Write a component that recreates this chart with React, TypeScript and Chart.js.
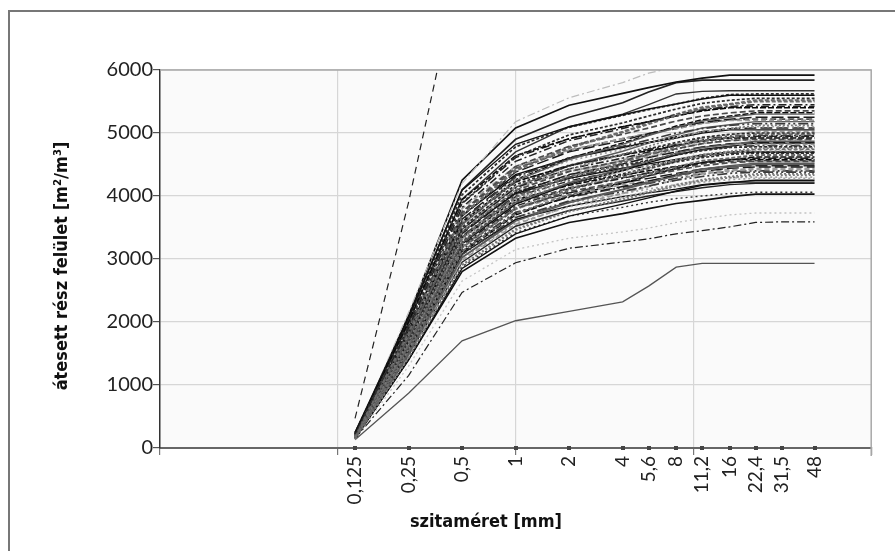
import React, { useEffect, useRef } from "react";
import { Chart, registerables } from "chart.js";

Chart.register(...registerables);

// ---- data ----
const sieves = [0.125, 0.25, 0.5, 1, 2, 4, 5.6, 8, 11.2, 16, 22.4, 31.5, 48];
const sieveLabels = ["0,125", "0,25", "0,5", "1", "2", "4", "5,6", "8", "11,2", "16", "22,4", "31,5", "48"];
const decadeGrid = [0.1, 1, 10];
const decadeTicks = [0.01, 0.1, 10, 100];

const steepDashed = [470, 3900, 7800];
const topSolid = [200, 2100, 4250, 5080, 5440, 5630, 5720, 5810, 5870, 5920, 5920, 5920, 5920];
const secondSolid = [190, 2050, 4100, 4900, 5250, 5480, 5650, 5800, 5840, 5840, 5840, 5840, 5840];
const topLightDashDot = [210, 2150, 4200, 5180, 5560, 5800, 5950, 6050, 6100, 6120, 6120, 6120, 6120];
const upperSolid = [200, 1990, 3950, 4700, 5100, 5300, 5450, 5620, 5660, 5670, 5670, 5670, 5670];
const lowestBlack = [150, 1400, 2800, 3330, 3580, 3720, 3800, 3880, 3930, 3990, 4030, 4030, 4030];
const dotted4060 = [150, 1420, 2880, 3420, 3680, 3820, 3900, 3960, 4000, 4040, 4060, 4060, 4060];
const solid4200 = [160, 1470, 2950, 3520, 3770, 3920, 4000, 4070, 4130, 4180, 4200, 4200, 4200];
const lightDotted = [140, 1300, 2650, 3150, 3330, 3430, 3490, 3580, 3640, 3700, 3730, 3730, 3730];
const dashDotLow = [150, 1150, 2470, 2940, 3170, 3270, 3320, 3400, 3450, 3510, 3580, 3590, 3590];
const bottomSolid = [130, 870, 1700, 2020, 2170, 2320, 2570, 2870, 2930, 2930, 2930, 2930, 2930];

const bandCurves = [
  [250, 2070, 4090, 4820, 5100, 5290, 5380, 5460, 5540, 5600, 5600, 5600, 5600],
  [220, 1940, 3890, 4630, 4970, 5160, 5270, 5380, 5470, 5520, 5550, 5550, 5550],
  [190, 1820, 3690, 4400, 4760, 5010, 5140, 5280, 5390, 5450, 5500, 5500, 5500],
  [220, 1910, 3820, 4550, 4880, 5070, 5180, 5290, 5370, 5420, 5450, 5450, 5450],
  [240, 2000, 3940, 4640, 4910, 5100, 5180, 5270, 5350, 5400, 5400, 5400, 5400],
  [210, 1870, 3750, 4470, 4790, 4980, 5080, 5190, 5270, 5320, 5350, 5350, 5350],
  [190, 1750, 3550, 4240, 4580, 4820, 4960, 5090, 5190, 5250, 5300, 5300, 5300],
  [210, 1840, 3680, 4380, 4700, 4880, 4990, 5090, 5170, 5220, 5250, 5250, 5250],
  [230, 1920, 3800, 4470, 4730, 4910, 4990, 5070, 5150, 5200, 5200, 5200, 5200],
  [210, 1800, 3610, 4300, 4610, 4790, 4890, 5000, 5070, 5120, 5150, 5150, 5150],
  [180, 1690, 3430, 4100, 4430, 4660, 4790, 4920, 5020, 5070, 5120, 5120, 5120],
  [200, 1790, 3570, 4260, 4560, 4740, 4850, 4950, 5020, 5070, 5100, 5100, 5100],
  [230, 1870, 3690, 4340, 4600, 4770, 4850, 4920, 5000, 5050, 5050, 5050, 5050],
  [200, 1750, 3500, 4180, 4480, 4650, 4750, 4850, 4930, 4980, 5000, 5000, 5000],
  [170, 1640, 3340, 3980, 4310, 4530, 4660, 4780, 4880, 4930, 4980, 4980, 4980],
  [200, 1730, 3470, 4130, 4430, 4600, 4700, 4800, 4880, 4930, 4950, 4950, 4950],
  [220, 1820, 3590, 4230, 4480, 4650, 4720, 4800, 4870, 4920, 4920, 4920, 4920],
  [200, 1720, 3430, 4090, 4390, 4560, 4660, 4750, 4830, 4880, 4900, 4900, 4900],
  [170, 1610, 3260, 3900, 4210, 4430, 4550, 4680, 4770, 4820, 4870, 4870, 4870],
  [190, 1700, 3400, 4050, 4340, 4510, 4610, 4700, 4780, 4830, 4850, 4850, 4850],
  [220, 1780, 3520, 4150, 4390, 4550, 4630, 4700, 4770, 4820, 4820, 4820, 4820],
  [190, 1680, 3360, 4010, 4300, 4460, 4560, 4660, 4730, 4780, 4800, 4800, 4800],
  [170, 1570, 3190, 3810, 4120, 4330, 4450, 4570, 4660, 4710, 4760, 4760, 4760],
  [190, 1650, 3300, 3940, 4220, 4390, 4480, 4580, 4650, 4700, 4720, 4720, 4720],
  [210, 1740, 3430, 4040, 4280, 4440, 4510, 4580, 4650, 4700, 4700, 4700, 4700],
  [190, 1640, 3280, 3910, 4190, 4350, 4450, 4540, 4610, 4660, 4680, 4680, 4680],
  [160, 1530, 3120, 3720, 4020, 4230, 4350, 4460, 4560, 4600, 4650, 4650, 4650],
  [180, 1610, 3220, 3840, 4120, 4280, 4370, 4460, 4530, 4580, 4600, 4600, 4600],
  [210, 1690, 3340, 3940, 4170, 4330, 4400, 4470, 4530, 4580, 4580, 4580, 4580],
  [180, 1590, 3190, 3800, 4070, 4230, 4320, 4410, 4480, 4530, 4550, 4550, 4550],
  [160, 1490, 3020, 3600, 3890, 4100, 4210, 4320, 4410, 4460, 4500, 4500, 4500],
  [180, 1560, 3120, 3720, 3990, 4150, 4240, 4330, 4390, 4440, 4460, 4460, 4460],
  [200, 1640, 3230, 3800, 4020, 4180, 4240, 4310, 4380, 4420, 4420, 4420, 4420],
  [180, 1530, 3070, 3660, 3920, 4070, 4160, 4250, 4310, 4360, 4380, 4380, 4380],
  [150, 1430, 2900, 3460, 3750, 3940, 4050, 4160, 4240, 4290, 4330, 4330, 4330],
  [170, 1500, 3000, 3570, 3830, 3980, 4070, 4150, 4220, 4260, 4280, 4280, 4280],
  [190, 1560, 3080, 3630, 3840, 3990, 4050, 4110, 4180, 4220, 4220, 4220, 4220],
];

const bandCurves2 = [
  [240, 2020, 4020, 4780, 5090, 5280, 5370, 5460, 5550, 5610, 5620, 5620, 5620],
  [190, 1820, 3700, 4420, 4780, 5020, 5160, 5300, 5410, 5460, 5520, 5520, 5520],
  [230, 1950, 3880, 4610, 4910, 5100, 5180, 5270, 5360, 5410, 5420, 5420, 5420],
  [190, 1760, 3560, 4260, 4600, 4840, 4970, 5110, 5210, 5270, 5320, 5320, 5320],
  [220, 1880, 3730, 4440, 4720, 4910, 4990, 5070, 5160, 5210, 5220, 5220, 5220],
  [180, 1710, 3470, 4140, 4480, 4710, 4840, 4970, 5080, 5130, 5180, 5180, 5180],
  [210, 1830, 3630, 4320, 4600, 4780, 4850, 4940, 5020, 5070, 5080, 5080, 5080],
  [180, 1660, 3360, 4020, 4340, 4570, 4690, 4820, 4920, 4970, 5020, 5020, 5020],
  [210, 1790, 3550, 4220, 4490, 4660, 4740, 4820, 4900, 4950, 4960, 4960, 4960],
  [170, 1630, 3310, 3950, 4270, 4500, 4620, 4740, 4840, 4890, 4940, 4940, 4940],
  [210, 1760, 3500, 4160, 4430, 4600, 4670, 4750, 4830, 4880, 4890, 4890, 4890],
  [170, 1600, 3240, 3870, 4190, 4400, 4530, 4650, 4740, 4790, 4840, 4840, 4840],
  [200, 1720, 3420, 4060, 4330, 4490, 4570, 4650, 4720, 4770, 4780, 4780, 4780],
  [170, 1560, 3180, 3790, 4100, 4310, 4430, 4550, 4650, 4690, 4740, 4740, 4740],
  [200, 1690, 3350, 3990, 4240, 4410, 4480, 4560, 4630, 4680, 4690, 4690, 4690],
  [160, 1520, 3100, 3700, 4000, 4200, 4320, 4440, 4530, 4570, 4620, 4620, 4620],
  [190, 1640, 3260, 3880, 4130, 4290, 4360, 4430, 4510, 4550, 4560, 4560, 4560],
  [160, 1490, 3030, 3620, 3910, 4110, 4230, 4340, 4430, 4480, 4520, 4520, 4520],
  [190, 1610, 3200, 3810, 4050, 4210, 4280, 4360, 4430, 4470, 4480, 4480, 4480],
  [160, 1470, 2980, 3550, 3840, 4040, 4150, 4260, 4350, 4400, 4440, 4440, 4440],
  [180, 1580, 3150, 3740, 3980, 4140, 4200, 4280, 4350, 4390, 4400, 4400, 4400],
  [150, 1440, 2910, 3480, 3760, 3960, 4070, 4180, 4260, 4310, 4350, 4350, 4350],
  [180, 1550, 3070, 3660, 3890, 4040, 4110, 4180, 4250, 4290, 4300, 4300, 4300],
  [150, 1400, 2850, 3400, 3680, 3870, 3970, 4080, 4170, 4210, 4250, 4250, 4250],
];

// ---- styles ----
const bandStyles = [
  { color: "#111111", dash: [] as number[], width: 1.4 },
  { color: "#4a4a4a", dash: [6, 3], width: 1.7 },
  { color: "#7a7a7a", dash: [2, 2], width: 1.7 },
  { color: "#222222", dash: [8, 3, 2, 3], width: 1.5 },
  { color: "#9a9a9a", dash: [5, 3], width: 1.8 },
  { color: "#2c2c2c", dash: [3, 2], width: 1.7 },
  { color: "#5a5a5a", dash: [], width: 1.4 },
  { color: "#a4a4a4", dash: [2, 3], width: 1.8 },
  { color: "#0a0a0a", dash: [6, 2], width: 1.5 },
  { color: "#3a3a3a", dash: [10, 3, 2, 3, 2, 3], width: 1.7 },
  { color: "#6a6a6a", dash: [4, 2], width: 1.9 },
  { color: "#1a1a1a", dash: [12, 4], width: 1.4 },
];

const FONT = 'Lato, "Open Sans", sans-serif';
const TITLE_FONT = '"DejaVu Sans Condensed", "DejaVu Sans", "Open Sans", sans-serif';

const toPoints = (vals: number[]) => vals.map((v, i) => ({ x: sieves[i], y: v }));

export default function App() {
  const ref = useRef<HTMLCanvasElement | null>(null);

  useEffect(() => {
    document.body.style.margin = "0";
    const canvas = ref.current;
    if (!canvas) return;

    const datasets: any[] = [];
    [...bandCurves, ...bandCurves2].forEach((c, i) => {
      const st = bandStyles[(i * 5) % bandStyles.length];
      datasets.push({
        data: toPoints(c),
        borderColor: st.color,
        borderDash: st.dash,
        borderWidth: st.width,
      });
    });
    const special = (vals: number[], color: string, dash: number[], width: number) =>
      datasets.push({ data: toPoints(vals), borderColor: color, borderDash: dash, borderWidth: width });

    special(topLightDashDot, "#bdbdbd", [8, 3, 2, 3], 1.2);
    special(topSolid, "#111111", [], 1.7);
    special(secondSolid, "#222222", [], 1.7);
    special(upperSolid, "#333333", [], 1.4);
    special(solid4200, "#222222", [], 1.4);
    special(dotted4060, "#333333", [2, 3], 1.4);
    special(lowestBlack, "#111111", [], 1.6);
    special(lightDotted, "#c4c4c4", [2, 3], 1.3);
    special(dashDotLow, "#222222", [8, 3, 2, 3], 1.2);
    special(bottomSolid, "#555555", [], 1.3);
    special(steepDashed, "#222222", [7, 5], 1.2);

    const frame = {
      id: "frame",
      beforeDraw(chart: any) {
        const { ctx, chartArea: a } = chart;
        ctx.save();
        ctx.fillStyle = "#ffffff";
        ctx.fillRect(0, 0, chart.width, chart.height);
        ctx.fillStyle = "#fafafa";
        ctx.fillRect(a.left, a.top, a.right - a.left, a.bottom - a.top);
        ctx.restore();
      },
      afterDraw(chart: any) {
        const { ctx, chartArea: a, scales } = chart;
        ctx.save();
        // outer frame
        ctx.strokeStyle = "#777777";
        ctx.lineWidth = 2;
        ctx.beginPath();
        ctx.moveTo(9, chart.height);
        ctx.lineTo(9, 11);
        ctx.lineTo(chart.width, 11);
        ctx.stroke();
        // plot border top/right
        ctx.strokeStyle = "#a8a8a8";
        ctx.lineWidth = 1.5;
        ctx.beginPath();
        ctx.moveTo(a.left, a.top);
        ctx.lineTo(a.right, a.top);
        ctx.lineTo(a.right, a.bottom + 8);
        ctx.stroke();
        // square markers on x axis
        ctx.fillStyle = "#444444";
        sieves.forEach((s) => {
          const x = scales.x.getPixelForValue(s);
          ctx.fillRect(Math.round(x) - 2, a.bottom - 2, 4, 4);
        });
        // titles
        ctx.fillStyle = "#111111";
        ctx.font = "bold 18px " + TITLE_FONT;
        ctx.textAlign = "center";
        ctx.textBaseline = "middle";
        ctx.fillText("szitaméret [mm]", 486, 522);
        ctx.translate(62, 266);
        ctx.rotate(-Math.PI / 2);
        ctx.fillText("átesett rész felület [m²/m³]", 0, 0);
        ctx.restore();
      },
    };

    const tickVals = Array.from(new Set([...decadeTicks, ...decadeGrid, ...sieves])).sort((a, b) => a - b);

    const chart = new Chart(canvas, {
      type: "line",
      data: { datasets },
      options: {
        animation: false,
        responsive: false,
        devicePixelRatio: 1,
        layout: { padding: { top: 70, right: 18, left: 0, bottom: 0 } },
        elements: { point: { radius: 0 }, line: { tension: 0 } },
        plugins: { legend: { display: false }, tooltip: { enabled: false } },
        scales: {
          x: {
            type: "logarithmic",
            min: 0.01,
            max: 100,
            afterBuildTicks: (s: any) => {
              s.ticks = tickVals.map((v) => ({ value: v }));
            },
            afterFit: (s: any) => {
              s.height = 103;
            },
            ticks: {
              autoSkip: false,
              minRotation: 90,
              maxRotation: 90,
              padding: 1,
              color: "#222222",
              font: { family: FONT, size: 19 },
              callback: (val: any) => {
                const i = sieves.indexOf(Number(val));
                return i >= 0 ? sieveLabels[i] : "";
              },
            },
            grid: {
              color: (c: any) => (c.tick && decadeGrid.includes(c.tick.value) ? "#d6d6d6" : "rgba(0,0,0,0)"),
              tickColor: (c: any) =>
                c.tick && (decadeTicks.includes(c.tick.value) || c.tick.value === 1) ? "#777777" : "rgba(0,0,0,0)",
              tickLength: 7,
              lineWidth: 1.2,
            },
            border: { display: true, color: "#666666", width: 2 },
          },
          y: {
            type: "linear",
            min: 0,
            max: 6000,
            afterFit: (s: any) => {
              s.width = 160;
            },
            ticks: {
              stepSize: 1000,
              padding: 0,
              color: "#222222",
              font: { family: FONT, size: 20 },
              callback: (val: any) => String(val),
            },
            grid: {
              color: "#d6d6d6",
              lineWidth: 1.2,
              tickColor: "#555555",
              tickLength: 7,
            },
            border: { display: true, color: "#333333", width: 1.5 },
          },
        },
      },
      plugins: [frame],
    });

    return () => chart.destroy();
  }, []);

  return (
    <div style={{ position: "absolute", left: 0, top: 0, width: 895, height: 551 }}>
      <canvas ref={ref} width={895} height={551} style={{ width: 895, height: 551, display: "block" }} />
    </div>
  );
}
